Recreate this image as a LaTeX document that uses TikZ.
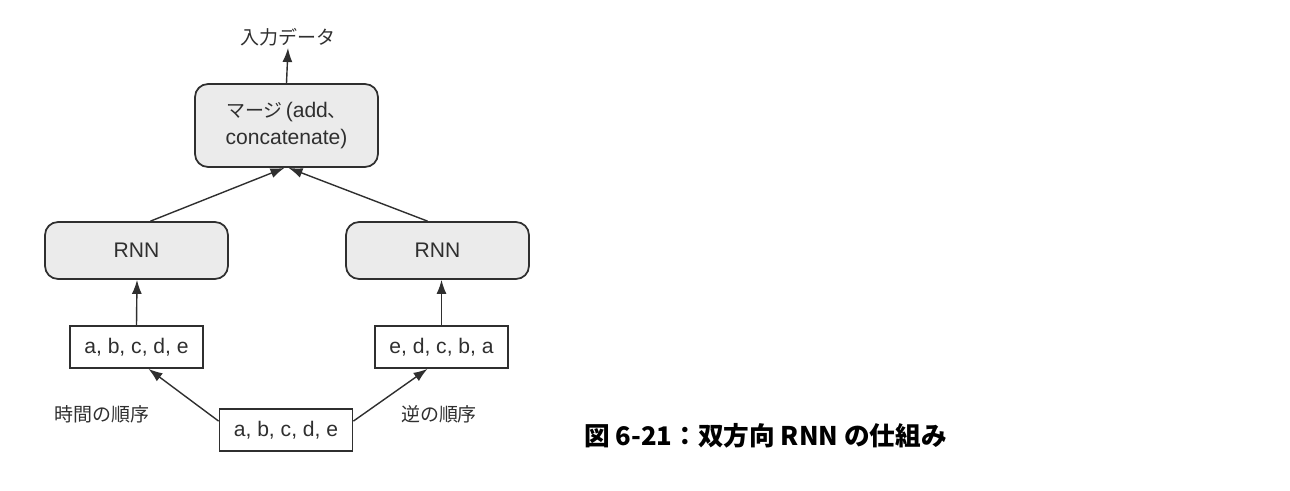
\documentclass[tikz,border=0pt]{standalone}
\usepackage{fontspec}
\setmainfont{Liberation Sans}
\newfontfamily\jp{Noto Sans CJK JP}
\usepackage{tikz}
\usetikzlibrary{arrows.meta}
\tikzset{>={Latex[length=2.8mm,width=2mm]}}
\usetikzlibrary{calc}

\definecolor{boxfill}{HTML}{EBEBEB}
\definecolor{ink}{HTML}{2F2F2F}

\begin{document}
\begin{tikzpicture}[x=0.02cm, y=-0.02cm, font=\fontsize{12}{15}\selectfont, text=ink, draw=ink]
    \def\rnnwidth{3.66cm}
    \def\rnnheight{1.14cm}
    \def\seqwidth{2.66cm}
    \def\seqheight{0.84cm}

    \tikzset{
        layer/.style={draw=ink, line width=1pt, fill=boxfill, rounded corners=0.26cm,
            minimum width=\rnnwidth, minimum height=\rnnheight, align=center},
        seq/.style={draw=ink, line width=1pt, fill=white,
            minimum width=\seqwidth, minimum height=\seqheight, inner sep=0pt},
        jplabel/.style={font=\jp\fontsize{10.8}{13}\selectfont},
        flow/.style={->, line width=0.8pt, draw=ink}
    }

    \useasboundingbox (0,0) rectangle (1290,490);

    % Merge
    \node[layer, minimum height=1.66cm] (merge) at (286.5,125.5)
        {{\jp\fontsize{10.8}{13}\selectfont マージ}\hspace{0.15em}(add{\jp\fontsize{10.8}{13}\selectfont 、}\\concatenate)};
    \node[jplabel, inner sep=1pt] (out) at (288,37) {入力データ};
    \draw[flow] (merge.north) -- (out.south);

    % RNN layers
    \node[layer] (rnnL) at (136.5,250.5) {RNN};
    \node[layer] (rnnR) at (437.5,250.5) {RNN};
    \draw[flow] ([xshift=0.28cm]rnnL.north) -- ([xshift=-0.04cm]merge.south);
    \draw[flow] ([xshift=-0.2cm]rnnR.north) -- ([xshift=0.04cm]merge.south);

    % Sequences
    \node[seq] (inL) at (136.5,347) {a, b, c, d, e};
    \node[seq] (inR) at (441.5,347) {e, d, c, b, a};
    \node[seq] (inB) at (286,430) {a, b, c, d, e};
    \draw[flow] (inL.north) -- ($(rnnL.south)+(0.5,0)$);
    \draw[flow] (inR.north) -- ($(rnnR.south)+(4,0)$);
    \draw[flow] ([yshift=-0.26cm]inB.north west) -- ([xshift=0.24cm]inL.south);
    \draw[flow] ([yshift=-0.26cm]inB.north east) -- ([xshift=-0.28cm]inR.south);

    % Labels
    \node[jplabel] (fwd) at (102,414) {時間の順序};
    \node[jplabel] (bwd) at (439,414) {逆の順序};

    % Caption
    \node[anchor=west, font=\jp\fontsize{14.6}{17}\selectfont\bfseries, text=black] (cap) at (578,436) {図 6-21：双方向 RNN の仕組み};
\end{tikzpicture}
\end{document}
